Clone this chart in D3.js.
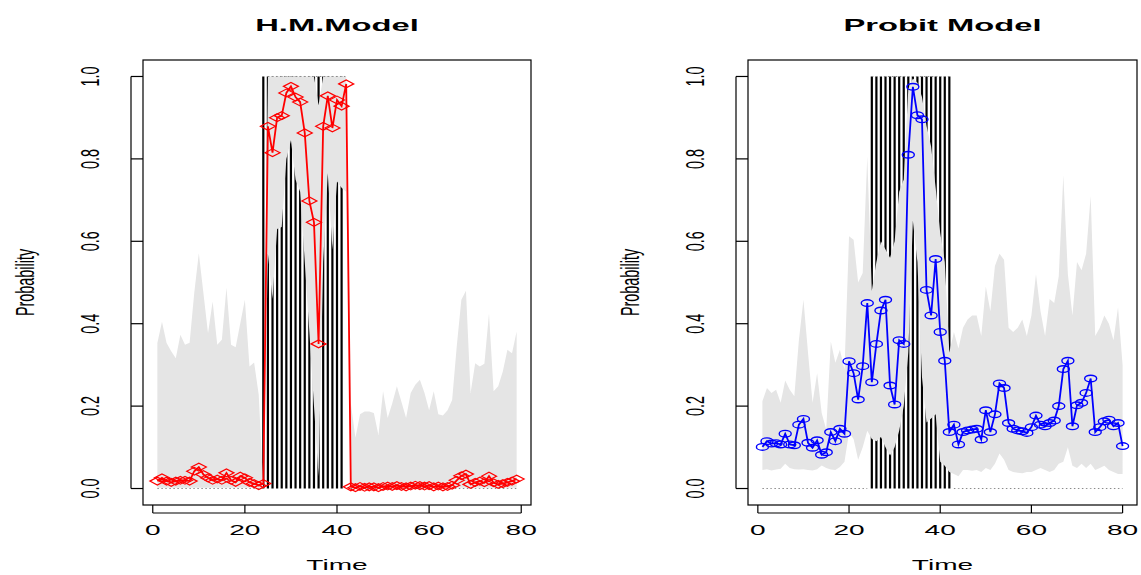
<!DOCTYPE html>
<html><head><meta charset="utf-8">
<script src="https://cdn.jsdelivr.net/npm/d3@7"></script>
<style>body{margin:0;background:#fff}svg{display:block}</style>
</head><body>
<svg id="c" width="1141" height="575"></svg>
<script>
// ---------- data ----------
const xTicks = [0, 20, 40, 60, 80];
const yTicks = [0, 0.2, 0.4, 0.6, 0.8, 1.0];
const yTickLabels = ["0.0", "0.2", "0.4", "0.6", "0.8", "1.0"];
const titles = ["H.M.Model", "Probit Model"];
const xLabel = "Time";
const yLabel = "Probability";

// regime (true state = 1) used for the dotted state line
const regimeStart = 25;
const regimeEnd = 42;

// H.M. model (t = 1..79)
const hmProb = [0.018,0.026,0.018,0.015,0.018,0.02,0.02,0.018,0.042,0.052,0.034,0.026,0.02,0.023,0.02,0.038,0.02,0.015,0.03,0.026,0.015,0.012,0.007,0.012,
  0.879,0.815,0.90,0.905,0.96,0.976,0.95,0.938,0.863,0.698,0.646,0.351,0.879,0.953,0.875,0.943,0.928,0.982,
  0.004,0.002,0.005,0.003,0.004,0.004,0.002,0.005,0.006,0.005,0.007,0.005,0.004,0.006,0.008,0.007,0.006,0.007,0.004,0.006,0.004,0.005,0.008,
  0.02,0.031,0.035,0.01,0.015,0.018,0.014,0.03,0.014,0.01,0.012,0.015,0.018,0.023];
const hmUpper = [0.353,0.405,0.353,0.333,0.316,0.373,0.349,0.354,0.474,0.571,0.474,0.377,0.454,0.349,0.361,0.487,0.349,0.343,0.401,0.458,0.296,0.306,0.228,0,
  1,1,1,1,1,1,1,1,1,1,1,0.93,1,1,1,1,1,1,
  0.207,0.123,0.18,0.187,0.187,0.183,0.13,0.236,0.171,0.207,0.248,0.21,0.171,0.232,0.252,0.264,0.232,0.19,0.236,0.18,0.177,0.19,0.215,
  0.345,0.458,0.48,0.232,0.304,0.296,0.303,0.425,0.236,0.248,0.284,0.337,0.328,0.381];
const hmLower = [0.002,0.002,0.002,0.002,0.002,0.002,0.002,0.002,0.002,0.002,0.002,0.002,0.002,0.002,0.002,0.002,0.002,0.002,0.002,0.002,0.002,0.002,0.002,0,
  0.57,0.46,0.63,0.635,0.80,0.845,0.75,0.72,0.55,0.38,0.20,0.03,0.55,0.765,0.58,0.745,0.73,0.72,
  0.002,0.002,0.002,0.002,0.002,0.002,0.002,0.002,0.002,0.002,0.002,0.002,0.002,0.002,0.002,0.002,0.002,0.002,0.002,0.002,0.002,0.002,0.002,
  0.002,0.002,0.002,0.002,0.002,0.002,0.002,0.002,0.002,0.002,0.002,0.002,0.002,0.002];
const hmLineTimes = [24,25,26,27,28,29,30,31,32,33,34,35,36,37,38,39,40,41];

// Probit model (t = 1..80)
const probitProb = [0.101,0.115,0.109,0.11,0.107,0.133,0.107,0.105,0.155,0.169,0.111,0.099,0.117,0.082,0.088,0.137,0.115,0.145,0.133,0.309,0.28,0.216,0.297,0.45,
  0.258,0.351,0.432,0.458,0.25,0.204,0.36,0.351,0.81,0.975,0.906,0.896,0.482,0.42,0.557,0.38,0.31,0.137,
  0.155,0.107,0.137,0.141,0.143,0.145,0.119,0.19,0.137,0.18,0.255,0.244,0.159,0.145,0.141,0.139,0.135,0.149,0.177,0.155,0.151,0.159,0.165,
  0.2,0.29,0.31,0.151,0.202,0.208,0.232,0.267,0.137,0.149,0.163,0.167,0.151,0.159,0.103];
const probitUpper = [0.212,0.244,0.232,0.24,0.208,0.262,0.24,0.224,0.36,0.458,0.33,0.208,0.28,0.183,0.143,0.357,0.305,0.337,0.289,0.612,0.604,0.5,0.523,0.806,
  0.48,0.55,0.6,0.58,0.56,0.6,0.72,0.75,0.97,0.995,0.985,0.95,0.88,0.83,0.73,0.62,0.55,0.33,
  0.38,0.34,0.39,0.41,0.42,0.42,0.37,0.49,0.43,0.54,0.57,0.555,0.39,0.38,0.39,0.41,0.37,0.42,0.52,0.43,0.37,0.46,0.45,0.515,0.76,0.52,0.42,0.55,0.53,0.57,0.71,0.37,0.39,0.42,0.40,0.36,0.44,0.30];
const probitLower = [0.045,0.047,0.044,0.046,0.048,0.06,0.05,0.047,0.046,0.047,0.045,0.044,0.047,0.056,0.05,0.046,0.045,0.052,0.065,0.136,0.12,0.07,0.1,0.14,
  0.12,0.115,0.125,0.10,0.08,0.10,0.14,0.20,0.33,0.65,0.55,0.27,0.16,0.17,0.18,0.065,0.055,0.04,
  0.035,0.03,0.045,0.045,0.043,0.045,0.04,0.05,0.045,0.06,0.085,0.07,0.045,0.04,0.038,0.037,0.04,0.04,0.045,0.05,0.045,0.04,0.045,0.06,0.065,0.1,0.055,0.05,0.06,0.05,0.06,0.045,0.05,0.055,0.045,0.04,0.035,0.035];
const probitLineTimes = [25,26,27,28,29,30,31,32,33,34,35,36,37,38,39,40,41,42];

// ---------- layout ----------
const FONT = "'Liberation Sans', Arial, Helvetica, sans-serif";
const SX = 1.95; // horizontal stretch of the original picture
const panels = [
  {title: titles[0], prob: hmProb, upper: hmUpper, lower: hmLower, lines: hmLineTimes,
   color: "#ff0000", marker: "diamond", box: [143, 60, 531, 505]},
  {title: titles[1], prob: probitProb, upper: probitUpper, lower: probitLower, lines: probitLineTimes,
   color: "#0000ff", marker: "circle", box: [748, 60, 1137, 505]}
];

const svg = d3.select("#c");

panels.forEach(p => {
  const n = p.prob.length;
  const data = p.prob.map((v, i) => ({t: i + 1, p: v, lo: p.lower[i], hi: p.upper[i],
    s: (i + 1 >= regimeStart && i + 1 <= regimeEnd) ? 1 : 0}));
  const [L, T, R, B] = p.box;
  const ext = 0.04 * (n - 1);
  const x = d3.scaleLinear().domain([1 - ext, n + ext]).range([L, R]);
  const y = d3.scaleLinear().domain([-0.04, 1.04]).range([B, T]);
  const g = svg.append("g");

  // black vertical state lines (under the band)
  g.selectAll("line.state").data(p.lines).join("line")
    .attr("x1", d => x(d)).attr("x2", d => x(d))
    .attr("y1", y(0)).attr("y2", y(1))
    .attr("stroke", "#000").attr("stroke-width", 2.2);

  // gray band
  g.append("path").datum(data)
    .attr("d", d3.area().x(d => x(d.t)).y0(d => y(d.lo)).y1(d => y(d.hi)))
    .attr("fill", "#e5e5e5");

  // dotted true-state line, drawn as constant runs
  const runs = [];
  data.forEach((d, i) => {
    if (i === 0 || d.s !== data[i - 1].s) runs.push([]);
    runs[runs.length - 1].push(d);
  });
  g.selectAll("path.st").data(runs).join("path")
    .attr("d", d3.line().x(d => x(d.t)).y(d => y(d.s)))
    .attr("fill", "none").attr("stroke", "#8a8a8a").attr("stroke-width", 1)
    .attr("stroke-dasharray", "1.5,2.5");

  // probability series
  g.append("path").datum(data)
    .attr("d", d3.line().x(d => x(d.t)).y(d => y(d.p)))
    .attr("fill", "none").attr("stroke", p.color).attr("stroke-width", 1.8);

  if (p.marker === "diamond") {
    g.selectAll("path.mk").data(data).join("path").attr("class", "mk")
      .attr("d", d => { const cx = x(d.t), cy = y(d.p);
        return `M${cx-7.5},${cy}L${cx},${cy-3.9}L${cx+7.5},${cy}L${cx},${cy+3.9}Z`; })
      .attr("fill", "none").attr("stroke", p.color).attr("stroke-width", 1.2);
  } else {
    g.selectAll("ellipse.mk").data(data).join("ellipse").attr("class", "mk")
      .attr("cx", d => x(d.t)).attr("cy", d => y(d.p))
      .attr("rx", 6).attr("ry", 3.3)
      .attr("fill", "none").attr("stroke", p.color).attr("stroke-width", 1.4);
  }

  // box
  g.append("rect").attr("x", L).attr("y", T).attr("width", R - L).attr("height", B - T)
    .attr("fill", "none").attr("stroke", "#000").attr("stroke-width", 1.2);

  // x axis (offset below the box)
  const xAxisY = 513;
  g.append("line").attr("x1", x(xTicks[0])).attr("x2", x(xTicks[xTicks.length - 1]))
    .attr("y1", xAxisY).attr("y2", xAxisY).attr("stroke", "#000").attr("stroke-width", 1.2);
  g.selectAll("line.xt").data(xTicks).join("line")
    .attr("x1", d => x(d)).attr("x2", d => x(d)).attr("y1", xAxisY).attr("y2", B)
    .attr("stroke", "#000").attr("stroke-width", 1.2);
  g.selectAll("text.xl").data(xTicks).join("text")
    .attr("transform", d => `translate(${x(d)},535) scale(${SX},1)`)
    .attr("text-anchor", "middle").attr("font-family", FONT).attr("font-size", 14.4)
    .text(d => d);

  // y axis (offset left of the box)
  const yAxisX = L - 12;
  g.append("line").attr("x1", yAxisX).attr("x2", yAxisX)
    .attr("y1", y(yTicks[0])).attr("y2", y(yTicks[yTicks.length - 1]))
    .attr("stroke", "#000").attr("stroke-width", 1.2);
  g.selectAll("line.yt").data(yTicks).join("line")
    .attr("x1", yAxisX).attr("x2", L).attr("y1", d => y(d)).attr("y2", d => y(d))
    .attr("stroke", "#000").attr("stroke-width", 1.2);
  g.selectAll("text.yl").data(yTicks).join("text")
    .attr("transform", d => `translate(${yAxisX - 42},${y(d)}) scale(${SX * 0.95},1) rotate(-90)`)
    .attr("text-anchor", "middle").attr("dy", "0.36em")
    .attr("font-family", FONT).attr("font-size", 14.4)
    .text((d, i) => yTickLabels[i]);

  // axis titles
  g.append("text")
    .attr("transform", `translate(${(L + R) / 2},570) scale(${SX},1)`)
    .attr("text-anchor", "middle").attr("font-family", FONT).attr("font-size", 14.4)
    .text(xLabel);
  g.append("text")
    .attr("transform", `translate(${yAxisX - 107},${(y(0) + y(1)) / 2}) scale(${SX * 0.95},1) rotate(-90)`)
    .attr("text-anchor", "middle").attr("dy", "0.36em")
    .attr("font-family", FONT).attr("font-size", 14.4)
    .text(yLabel);

  // main title
  g.append("text")
    .attr("transform", `translate(${(L + R) / 2},31) scale(${SX * 0.97},1)`)
    .attr("text-anchor", "middle").attr("font-family", FONT).attr("font-size", 17.3)
    .attr("font-weight", "bold")
    .text(p.title);
});
</script>
</body></html>
